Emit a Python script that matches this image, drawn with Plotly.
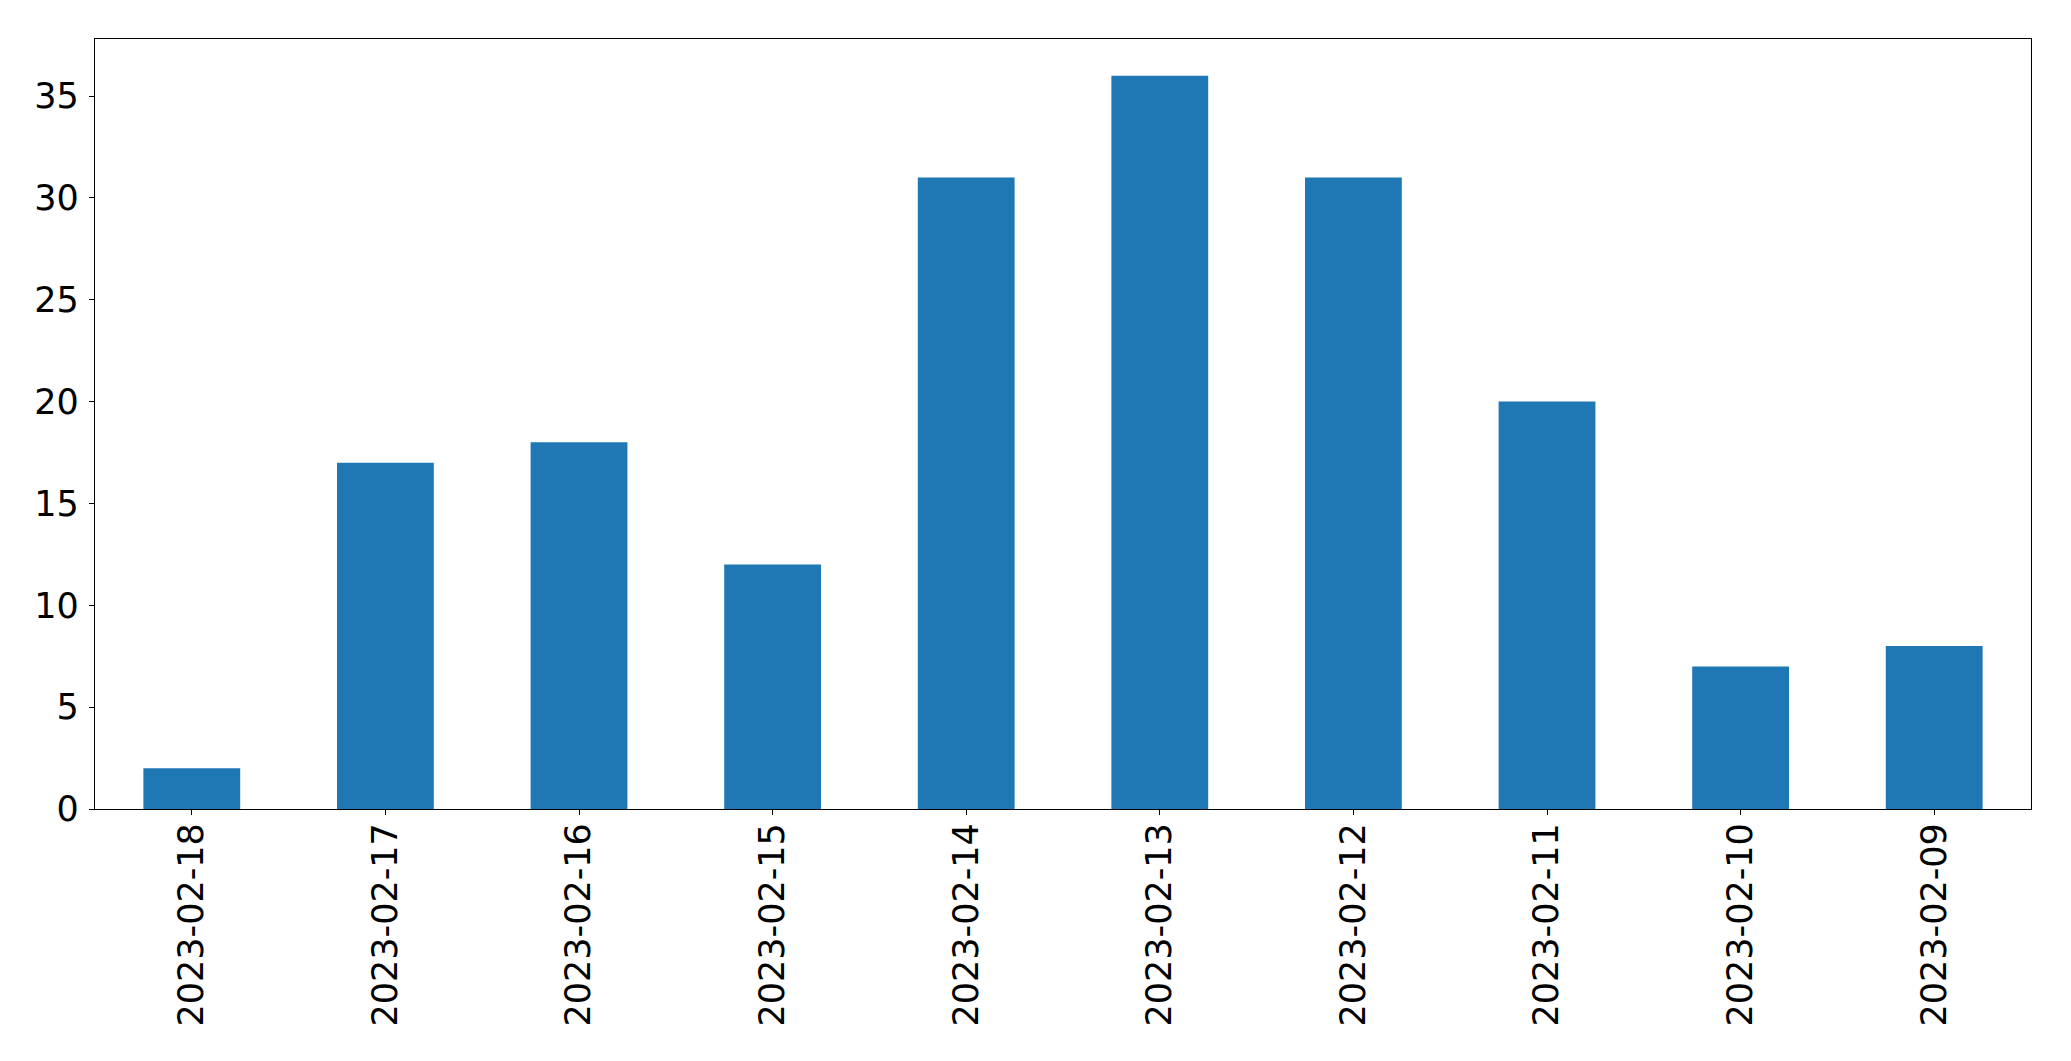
import plotly.graph_objects as go

dates = ["2023-02-18", "2023-02-17", "2023-02-16", "2023-02-15", "2023-02-14",
         "2023-02-13", "2023-02-12", "2023-02-11", "2023-02-10", "2023-02-09"]
counts = [2, 17, 18, 12, 31, 36, 31, 20, 7, 8]
y_ticks = [0, 5, 10, 15, 20, 25, 30, 35]

fig = go.Figure()
fig.add_trace(go.Bar(
    x=list(range(len(dates))), y=counts, width=0.5,
    marker=dict(color="#1f77b4", line=dict(width=0)),
))

font = dict(family="DejaVu Sans", size=35, color="black")
fig.update_layout(
    template="none",
    width=2071, height=1061,
    margin=dict(l=95, r=40, t=39, b=252, pad=0, autoexpand=False),
    paper_bgcolor="white", plot_bgcolor="white",
    showlegend=False,
    font=font,
    xaxis=dict(
        automargin=False,
        range=[-0.5, len(dates) - 0.5],
        tickmode="array", tickvals=list(range(len(dates))), ticktext=dates,
        tickangle=-90, ticks="outside", ticklen=5, tickwidth=1.3, tickcolor="black",
        showline=True, linecolor="black", linewidth=1.3, mirror=True,
        showgrid=False, zeroline=False, tickfont=font, ticklabelstandoff=-6,
    ),
    yaxis=dict(
        automargin=False,
        range=[0, 37.8],
        tickmode="array", tickvals=y_ticks, ticktext=[str(v) for v in y_ticks],
        ticks="outside", ticklen=5, tickwidth=1.3, tickcolor="black",
        showline=True, linecolor="black", linewidth=1.3, mirror=True,
        showgrid=False, zeroline=False, tickfont=font, ticklabelstandoff=3,
    ),
)

fig.write_html(
    "out.html",
    config={"displayModeBar": False},
    post_script="document.body.style.margin='0';document.body.style.overflow='hidden';",
)
